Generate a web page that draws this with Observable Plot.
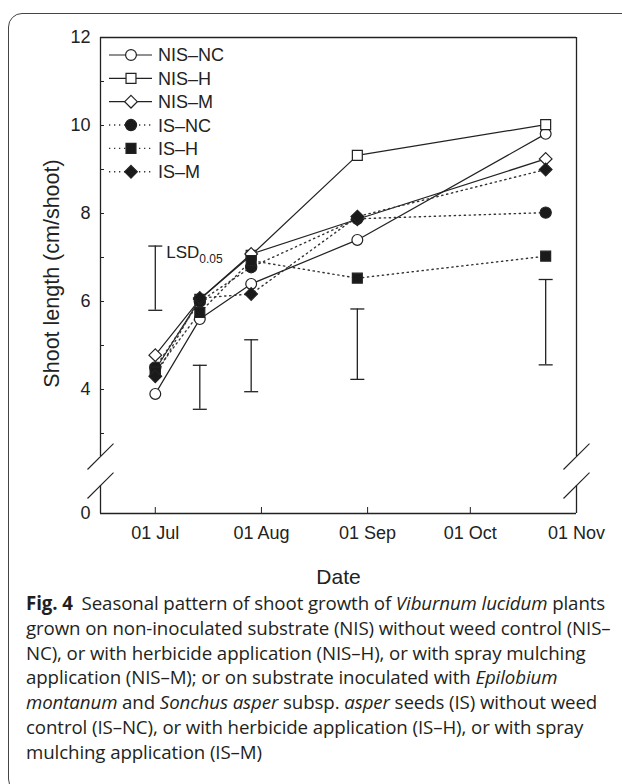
<!DOCTYPE html>
<html>
<head>
<meta charset="utf-8">
<script src="https://cdn.jsdelivr.net/npm/d3@7"></script>
<script src="https://cdn.jsdelivr.net/npm/@observablehq/plot@0.6"></script>
<style>
  body { margin: 0; background: #fff; }
  #wrap { position: relative; width: 622px; height: 784px; overflow: hidden; background: #fff; }
  #box { position: absolute; left: 8px; top: 13px; width: 720px; height: 780px; border: 1.3px solid #444; border-radius: 14px; box-sizing: border-box; }
  #chart { position: absolute; left: 0; top: 0; }
  #caption { position: absolute; left: 26px; top: 591px; font-family: "Open Sans", "Noto Sans", sans-serif; font-size: 18.7px; line-height: 24.8px; color: #231f20; white-space: nowrap; letter-spacing: -0.1px; }
  #caption b { font-weight: 700; margin-right: 4px; }
</style>
</head>
<body>
<div id="wrap">
  <div id="box"></div>
  <div id="chart"></div>
  <div id="caption">
    <div><b>Fig. 4</b> Seasonal pattern of shoot growth of <i>Viburnum lucidum</i> plants</div>
    <div>grown on non-inoculated substrate (NIS) without weed control (NIS–</div>
    <div>NC), or with herbicide application (NIS–H), or with spray mulching</div>
    <div>application (NIS–M); or on substrate inoculated with <i>Epilobium</i></div>
    <div><i>montanum</i> and <i>Sonchus asper</i> subsp. <i>asper</i> seeds (IS) without weed</div>
    <div>control (IS–NC), or with herbicide application (IS–H), or with spray</div>
    <div>mulching application (IS–M)</div>
  </div>
</div>
<script>
// ---------- data ----------
const sampleDates = ["2015-07-01", "2015-07-14", "2015-07-29", "2015-08-29", "2015-10-23"];
const seriesNames = ["NIS–NC", "NIS–H", "NIS–M", "IS–NC", "IS–H", "IS–M"];
const nisNC = [3.9, 5.6, 6.4, 7.4, 9.81];
const nisH  = [4.45, 6.05, 7.05, 9.32, 10.02];
const nisM  = [4.78, 6.05, 7.08, 7.87, 9.24];
const isNC  = [4.5, 6.0, 6.78, 7.88, 8.02];
const isH   = [4.4, 5.75, 6.93, 6.53, 7.03];
const isM   = [4.3, 6.08, 6.17, 7.93, 9.0];
const lsdLow  = [5.8, 3.55, 3.95, 4.23, 4.56];
const lsdHigh = [7.26, 4.55, 5.13, 5.83, 6.5];
const xTickDates = ["2015-07-01", "2015-08-01", "2015-09-01", "2015-10-01", "2015-11-01"];
const xDomainDates = ["2015-06-15", "2015-11-01"];
const yTickValues = [3, 4, 5, 6, 7, 8, 9, 10, 11, 12];
const yTickLabels = [0, 4, 6, 8, 10, 12];

// ---------- helpers ----------
const parse = d3.utcParse("%Y-%m-%d");
const allValues = [nisNC, nisH, nisM, isNC, isH, isM];
const styles = {
  "NIS–NC": {symbol: "circle", fill: "white", r: 5.4, dotted: false},
  "NIS–H":  {symbol: "square", fill: "white", r: 5.6, dotted: false},
  "NIS–M":  {symbol: "diamond2", fill: "white", r: 5.7, dotted: false},
  "IS–NC":  {symbol: "circle", fill: "#1a1a1a", r: 5.6, dotted: true},
  "IS–H":   {symbol: "square", fill: "#1a1a1a", r: 5.6, dotted: true},
  "IS–M":   {symbol: "diamond2", fill: "#1a1a1a", r: 5.7, dotted: true}
};
// broken axis: 3..12 linear, 0..3 compressed
const LOW = 1.1818;
const brk = v => v >= 3 ? v : LOW + v * (3 - LOW) / 3;
const unbrk = t => t >= 3 ? t : (t - LOW) * 3 / (3 - LOW);
const gapLo = 1.818, gapHi = 2.477;
const DAY = 864e5;

const rows = seriesNames.flatMap((s, k) =>
  allValues[k].map((v, i) => ({series: s, date: parse(sampleDates[i]), v})));
const lsd = sampleDates.map((d, i) => ({date: parse(d), lo: lsdLow[i], hi: lsdHigh[i]}));
const xTicks = xTickDates.map(parse);
const [x0, x1] = xDomainDates.map(parse);

const capSymbol = {draw(ctx) { ctx.moveTo(-7, 0); ctx.lineTo(7, 0); }};

const slashes = [x0, x1].flatMap(xe => [gapLo, gapHi].map(g => ({
  xa: new Date(+xe - 3.8 * DAY), xb: new Date(+xe + 3.8 * DAY), ya: g - 0.295, yb: g + 0.295
})));

const ink = "#222";
const marks = [
  // frame
  Plot.ruleY([12], {x1: x0, x2: x1, stroke: ink, strokeWidth: 1.3}),
  Plot.ruleY([brk(0)], {x1: x0, x2: x1, stroke: ink, strokeWidth: 1.3}),
  Plot.ruleX([x0, x0, x1, x1], {x: d => d, y1: (d, i) => i % 2 ? gapHi : brk(0), y2: (d, i) => i % 2 ? 12 : gapLo, stroke: ink, strokeWidth: 1.3}),
  Plot.link(slashes, {x1: "xa", y1: "ya", x2: "xb", y2: "yb", stroke: ink, strokeWidth: 1.1}),
  // axes
  Plot.axisX(xTicks, {tickSize: 6, insetBottom: 6, tickFormat: () => "", label: null, stroke: ink}),
  Plot.axisX(xTicks, {tickSize: 0, tickPadding: 13, tickFormat: d3.utcFormat("%d %b"), fontSize: 18, label: null, fill: ink}),
  Plot.axisY(yTickValues.map(brk), {tickSize: 4, insetLeft: 4, tickFormat: () => "", label: null, stroke: ink}),
  Plot.axisY(yTickLabels.map(brk), {tickSize: 0, tickPadding: 10, tickFormat: t => String(Math.round(unbrk(t))), fontSize: 18, label: null, fill: ink}),
  Plot.text(["Date"], {frameAnchor: "bottom", dy: 64, fontSize: 21, fill: ink, textAnchor: "middle", lineAnchor: "middle"}),
  Plot.text(["Shoot length (cm/shoot)"], {frameAnchor: "left", rotate: -90, dx: -48, dy: -2, fontSize: 21.5, fill: ink, textAnchor: "middle", lineAnchor: "middle"}),
  // LSD bars
  Plot.ruleX(lsd, {x: "date", y1: d => brk(d.lo), y2: d => brk(d.hi), stroke: ink, strokeWidth: 1.3}),
  Plot.dot(lsd.flatMap(d => [{date: d.date, y: d.lo}, {date: d.date, y: d.hi}]), {x: "date", y: d => brk(d.y), symbol: capSymbol, r: 5, stroke: ink, strokeWidth: 1.3, fill: "none"}),
  Plot.text([lsd[0]], {x: "date", y: d => brk(d.hi), text: () => "LSD", dx: 11, lineAnchor: "top", textAnchor: "start", fontSize: 17, fill: ink}),
  Plot.text([lsd[0]], {x: "date", y: d => brk(d.hi), text: () => "0.05", dx: 44, dy: 8.8, lineAnchor: "top", textAnchor: "start", fontSize: 12, fill: ink}),
  // lines
  Plot.line(rows.filter(d => !styles[d.series].dotted), {x: "date", y: d => brk(d.v), z: "series", stroke: ink, strokeWidth: 1.2}),
  Plot.line(rows.filter(d => styles[d.series].dotted), {x: "date", y: d => brk(d.v), z: "series", stroke: "#333", strokeWidth: 1.4, strokeDasharray: "1.3,3.7"}),
  // markers: open first, filled on top
  ...seriesNames.map(s => Plot.dot(rows.filter(d => d.series === s), {
    x: "date", y: d => brk(d.v), symbol: styles[s].symbol, r: styles[s].r,
    fill: styles[s].fill, stroke: ink, strokeWidth: 1.2
  }))
];

const svg = Plot.plot({
  width: 622,
  height: 584,
  marginLeft: 100, marginRight: 46, marginTop: 37, marginBottom: 71,
  style: {fontFamily: "'Liberation Sans', Arial, sans-serif", background: "transparent", overflow: "visible"},
  x: {type: "utc", domain: [x0, x1], range: [100, 576]},
  y: {domain: [brk(0), 12], range: [513, 37]},
  marks
});

// legend (inside plot, upper left)
const symMap = {circle: d3.symbolCircle, square: d3.symbolSquare, diamond2: d3.symbolDiamond2};
const lg = d3.select(svg).append("g")
  .attr("font-family", "'Liberation Sans', Arial, sans-serif")
  .attr("font-size", 18).attr("fill", ink).attr("text-anchor", "start");
seriesNames.forEach((s, i) => {
  const st = styles[s];
  const y = 55 + i * 23.35;
  lg.append("line").attr("x1", 109).attr("x2", 152).attr("y1", y).attr("y2", y)
    .attr("stroke", st.dotted ? "#333" : ink).attr("stroke-width", st.dotted ? 1.4 : 1.2)
    .attr("stroke-dasharray", st.dotted ? "1.3,3.7" : null);
  lg.append("path").attr("transform", `translate(131,${y})`)
    .attr("d", d3.symbol(symMap[st.symbol], Math.PI * st.r * st.r)())
    .attr("fill", st.fill).attr("stroke", ink).attr("stroke-width", 1.2);
  lg.append("text").attr("x", 158).attr("y", y).attr("dy", "0.36em")
    .attr("text-anchor", "start").text(s);
});

document.getElementById("chart").appendChild(svg);
</script>
</body>
</html>
